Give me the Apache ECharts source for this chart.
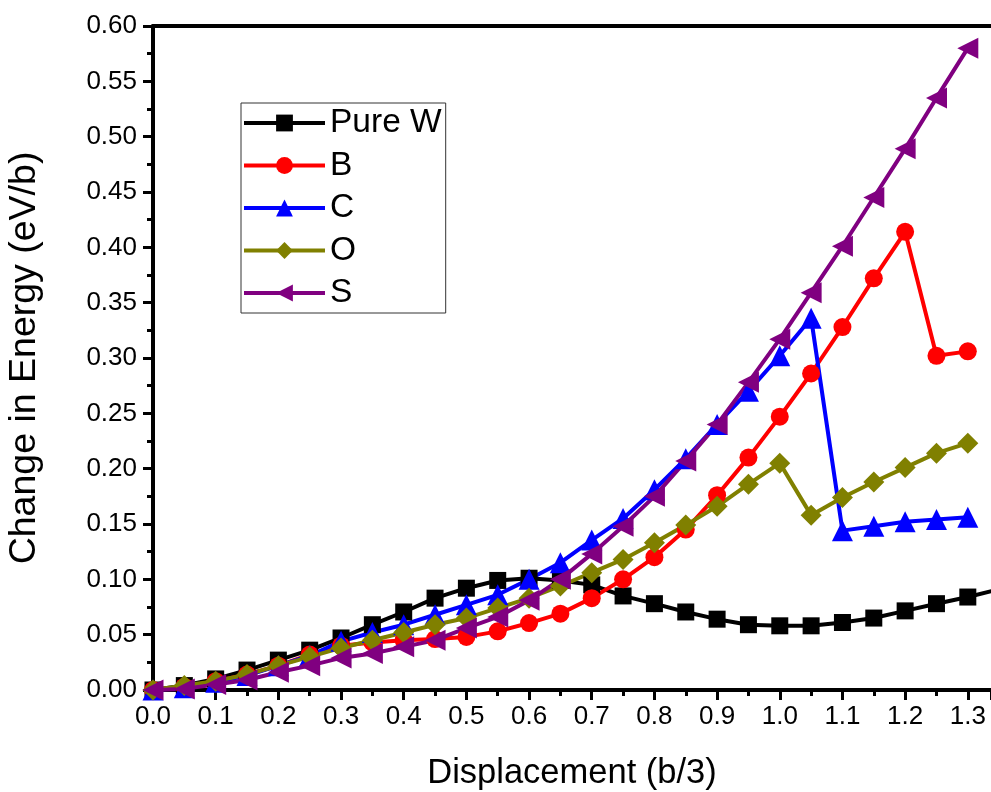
<!DOCTYPE html>
<html>
<head>
<meta charset="utf-8">
<script src="https://cdn.jsdelivr.net/npm/echarts@6/dist/echarts.min.js"></script>
<style>
  html, body { margin: 0; padding: 0; background: #ffffff; }
  #chart { width: 991px; height: 792px; }
</style>
</head>
<body>
<div id="chart"></div>
<script>
// Displacement steps (b/3)
const displacement = [0, 0.05, 0.1, 0.15, 0.2, 0.25, 0.3, 0.35, 0.4, 0.45, 0.5, 0.55, 0.6, 0.65,
  0.7, 0.75, 0.8, 0.85, 0.9, 0.95, 1.0, 1.05, 1.1, 1.15, 1.2, 1.25, 1.3, 1.35];

// Change in energy (eV/b) for each composition
const pureW = [0, 0.004, 0.010, 0.018, 0.027, 0.036, 0.047, 0.059, 0.0705, 0.083, 0.092, 0.099, 0.101, 0.099,
  0.095, 0.085, 0.078, 0.0705, 0.064, 0.059, 0.058, 0.058, 0.061, 0.065, 0.0715, 0.078, 0.084, 0.091];
const seriesB = [0, 0.003, 0.008, 0.014, 0.022, 0.032, 0.040, 0.043, 0.045, 0.046, 0.048, 0.053, 0.0605, 0.069,
  0.083, 0.100, 0.120, 0.145, 0.176, 0.210, 0.247, 0.286, 0.328, 0.372, 0.414, 0.302, 0.306];
const seriesC = [0, 0.002, 0.007, 0.013, 0.022, 0.031, 0.044, 0.052, 0.059, 0.068, 0.077, 0.086, 0.100, 0.115,
  0.1355, 0.155, 0.181, 0.209, 0.240, 0.270, 0.302, 0.336, 0.144, 0.148, 0.152, 0.154, 0.156];
const seriesO = [0, 0.004, 0.008, 0.014, 0.022, 0.030, 0.038, 0.045, 0.052, 0.059, 0.065, 0.074, 0.083, 0.094,
  0.106, 0.118, 0.133, 0.149, 0.166, 0.186, 0.205, 0.158, 0.174, 0.188, 0.201, 0.214, 0.223];
const seriesS = [0, 0.001, 0.005, 0.009, 0.016, 0.022, 0.029, 0.033, 0.039, 0.045, 0.056, 0.066, 0.081, 0.100,
  0.123, 0.148, 0.175, 0.207, 0.240, 0.278, 0.317, 0.359, 0.401, 0.445, 0.489, 0.535, 0.580];

const FONT = "'Liberation Sans', Arial, sans-serif";

function pairs(values) {
  return values.map((v, i) => [displacement[i], v]);
}

function makeSeries(name, values, color, symbol, size, rotate) {
  return {
    name: name,
    type: 'line',
    data: pairs(values),
    xAxisIndex: 0,
    yAxisIndex: 0,
    symbol: symbol,
    symbolSize: size,
    symbolRotate: rotate || 0,
    showAllSymbol: true,
    clip: true,
    lineStyle: { color: color, width: 4 },
    itemStyle: { color: color, borderWidth: 0 },
    emphasis: { disabled: true },
    animation: false
  };
}

const axisLineStyle = { color: '#000', width: 4 };

const chart = echarts.init(document.getElementById('chart'), null, { renderer: 'canvas' });
chart.setOption({
  backgroundColor: '#ffffff',
  animation: false,
  grid: {
    left: 153, top: 26, right: 0, bottom: 102,
    containLabel: false,
    outerBoundsMode: 'none'
  },
  legend: {
    orient: 'vertical',
    left: 241,
    top: 103,
    padding: [3, 4, 3, 1],
    itemWidth: 81,
    itemHeight: 21,
    itemGap: 8.5,
    borderColor: '#333',
    borderWidth: 1,
    lineStyle: { width: 4 },
    textStyle: { fontFamily: FONT, fontSize: 33.5, color: '#000', lineHeight: 32 },
    data: ['Pure W', 'B', 'C', 'O', 'S']
  },
  xAxis: [{
    type: 'value',
    min: 0,
    max: 1.337,
    interval: 0.1,
    name: 'Displacement (b/3)',
    nameLocation: 'middle',
    nameGap: 66,
    nameTextStyle: { fontFamily: FONT, fontSize: 34.5, color: '#000' },
    axisLine: { show: true, lineStyle: axisLineStyle },
    axisTick: { show: true, inside: false, length: 10, lineStyle: { color: '#000', width: 3 } },
    minorTick: { show: true, splitNumber: 2, length: 6, lineStyle: { color: '#000', width: 3 } },
    splitLine: { show: false },
    axisLabel: {
      fontFamily: FONT, fontSize: 26, color: '#000', margin: 14,
      formatter: v => v.toFixed(1)
    }
  }, {
    type: 'value',
    position: 'top',
    min: 0,
    max: 1.337,
    interval: 0.1,
    axisLine: { show: true, lineStyle: axisLineStyle },
    axisTick: { show: false },
    axisLabel: { show: false },
    splitLine: { show: false }
  }],
  yAxis: {
    type: 'value',
    min: 0,
    max: 0.6,
    interval: 0.05,
    name: 'Change in Energy (eV/b)',
    nameLocation: 'middle',
    nameGap: 109,
    nameTextStyle: { fontFamily: FONT, fontSize: 37.5, color: '#000' },
    axisLine: { show: true, lineStyle: axisLineStyle },
    axisTick: { show: true, inside: false, length: 10, lineStyle: { color: '#000', width: 3 } },
    minorTick: { show: true, splitNumber: 2, length: 6, lineStyle: { color: '#000', width: 3 } },
    splitLine: { show: false },
    axisLabel: {
      fontFamily: FONT, fontSize: 26, color: '#000', margin: 16,
      formatter: v => v.toFixed(2)
    }
  },
  series: [
    makeSeries('Pure W', pureW, '#000000', 'rect', 17),
    makeSeries('B', seriesB, '#ff0000', 'circle', 18),
    makeSeries('C', seriesC, '#0000ff', 'triangle', 21),
    makeSeries('O', seriesO, '#808000', 'diamond', 21),
    makeSeries('S', seriesS, '#800080', 'triangle', 21, 90)
  ]
});
</script>
</body>
</html>
